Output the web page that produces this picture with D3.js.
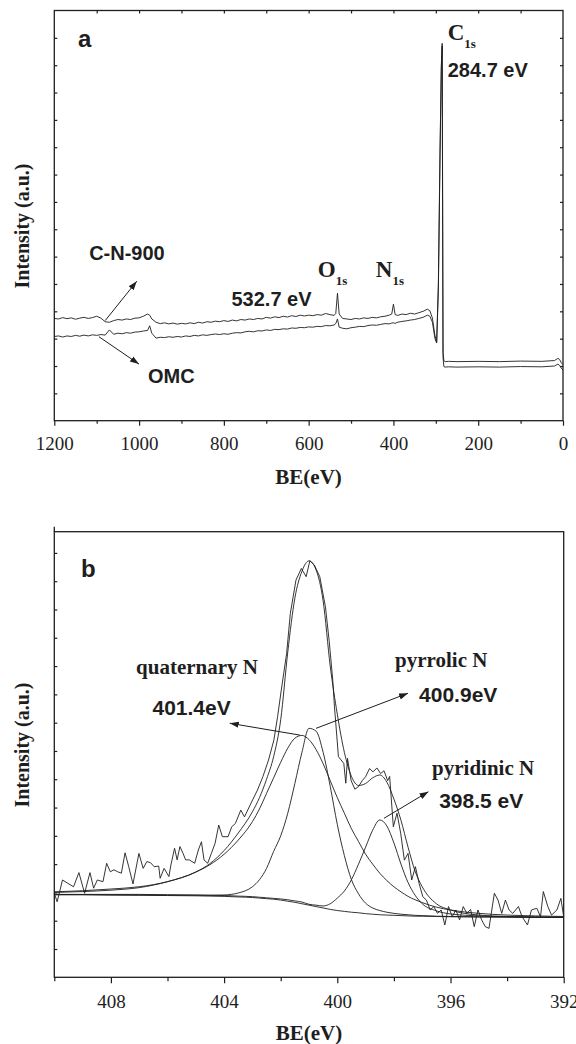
<!DOCTYPE html>
<html>
<head>
<meta charset="utf-8">
<script src="https://cdn.jsdelivr.net/npm/d3@7"></script>
<style>
body { margin: 0; background: #fff; }
</style>
</head>
<body>
<div id="chart"></div>
<script>
// ---------- panel a : XPS survey ----------
const surveyBE = [
  1200, 1190, 1180, 1170, 1160, 1150, 1140, 1130, 1120, 1110,
  1100, 1090, 1080, 1070, 1060, 1050, 1040, 1030, 1020, 1010,
  1000, 990, 980, 975, 970, 960, 950, 940, 930, 920,
  910, 900, 890, 880, 870, 860, 850, 840, 830, 820,
  810, 800, 790, 780, 770, 760, 750, 740, 730, 720,
  710, 700, 690, 680, 670, 660, 650, 640, 630, 620,
  610, 600, 590, 580, 570, 560, 550, 540, 536, 532,
  528, 520, 510, 500, 490, 480, 470, 460, 450, 440,
  430, 420, 410, 404, 400, 396, 390, 380, 370, 360,
  350, 340, 330, 320, 314, 308, 302, 298, 294, 290,
  287, 285, 283, 281, 278, 270, 250, 200, 150, 100,
  50, 20, 12, 8, 4, 0
]
const cn900 = [
  3.74, 3.72, 3.77, 3.73, 3.76, 3.71, 3.75, 3.78, 3.74, 3.77,
  3.82, 3.75, 3.62, 3.6, 3.66, 3.7, 3.68, 3.72, 3.7, 3.75,
  3.76, 3.82, 3.9, 3.86, 3.72, 3.6, 3.55, 3.58, 3.54, 3.57,
  3.53, 3.56, 3.54, 3.58, 3.55, 3.6, 3.57, 3.62, 3.6, 3.64,
  3.62, 3.66, 3.63, 3.68, 3.65, 3.7, 3.68, 3.72, 3.7, 3.74,
  3.72, 3.78, 3.75, 3.8, 3.77, 3.82, 3.79, 3.84, 3.81, 3.86,
  3.83, 3.86, 3.84, 3.88, 3.86, 3.92, 3.88, 3.85, 3.92, 4.66,
  3.9, 3.74, 3.72, 3.7, 3.74, 3.72, 3.76, 3.74, 3.78, 3.76,
  3.8, 3.82, 3.86, 3.9, 4.26, 3.88, 3.85, 3.9, 3.88, 3.93,
  3.9, 3.95, 4.0, 4.08, 4.02, 3.75, 3.1, 2.89, 5.0, 10.0,
  13.0, 13.8, 2.5, 2.2, 2.16, 2.17, 2.16, 2.17, 2.16, 2.18,
  2.17, 2.2, 2.28, 2.24, 2.12, 2.05
]
const omc = [
  3.08, 3.1, 3.06, 3.1, 3.08, 3.12, 3.09, 3.13, 3.1, 3.14,
  3.12, 3.15, 3.13, 3.32, 3.16, 3.2, 3.18, 3.22, 3.2, 3.24,
  3.25, 3.28, 3.3, 3.47, 3.2, 3.02, 3.05, 3.04, 3.07, 3.05,
  3.08, 3.06, 3.1, 3.08, 3.12, 3.1, 3.14, 3.12, 3.15, 3.17,
  3.15, 3.18, 3.16, 3.2, 3.22, 3.21, 3.25, 3.27, 3.25, 3.29,
  3.28, 3.32, 3.3, 3.34, 3.33, 3.36, 3.35, 3.39, 3.38, 3.41,
  3.4, 3.43, 3.42, 3.45, 3.44, 3.48, 3.47, 3.5, 3.55, 3.72,
  3.42, 3.38, 3.36, 3.4, 3.42, 3.45, 3.44, 3.48, 3.5, 3.49,
  3.52, 3.55, 3.54, 3.57, 3.58, 3.56, 3.6, 3.63, 3.65, 3.68,
  3.7, 3.74, 3.78, 3.86, 3.82, 3.6, 3.0, 2.84, 4.8, 9.8,
  12.9, 13.7, 2.3, 1.98, 1.96, 1.97, 1.96, 1.97, 1.96, 1.98,
  1.97, 2.0, 2.07, 2.02, 1.92, 1.85
]
const surveyTicks = [1200, 1000, 800, 600, 400, 200, 0]
const surveyMinor = [1100, 900, 700, 500, 300, 100]

// ---------- panel b : N1s fit ----------
const n1sBE = [
  410, 409, 408, 407, 406, 405, 404.5, 404, 403.5, 403,
  402.75, 402.5, 402.25, 402, 401.75, 401.5, 401.25, 401, 400.75, 400.5,
  400.25, 400, 399.75, 399.5, 399.25, 399, 398.75, 398.5, 398.25, 398,
  397.75, 397.5, 397.25, 397, 396.5, 396, 395, 394, 393, 392
]
const background = [
  2.92, 2.92, 2.91, 2.9, 2.89, 2.88, 2.87, 2.86, 2.84, 2.82,
  2.8, 2.78, 2.76, 2.73, 2.69, 2.65, 2.6, 2.55, 2.5, 2.45,
  2.4, 2.36, 2.33, 2.3, 2.28, 2.25, 2.23, 2.21, 2.2, 2.19,
  2.18, 2.17, 2.16, 2.16, 2.15, 2.14, 2.13, 2.13, 2.12, 2.12
]
const quaternary = [
  3.02, 3.06, 3.12, 3.2, 3.38, 3.72, 3.98, 4.35, 4.85, 5.5,
  5.95, 6.5, 7.05, 7.6, 8.1, 8.45, 8.55, 8.4, 8.05, 7.55,
  6.95, 6.35, 5.8, 5.25, 4.8, 4.35, 4.0, 3.68, 3.42, 3.2,
  3.02, 2.86, 2.74, 2.64, 2.48, 2.38, 2.26, 2.2, 2.17, 2.15
]
const pyrrolic = [
  2.92, 2.92, 2.91, 2.91, 2.9, 2.9, 2.9, 2.91, 2.98, 3.2,
  3.45, 3.85, 4.45, 5.0, 5.8, 6.85, 7.95, 8.8, 8.7, 7.95,
  6.75, 5.4, 4.3, 3.45, 2.95, 2.62, 2.45, 2.36, 2.3, 2.26,
  2.23, 2.21, 2.19, 2.18, 2.16, 2.15, 2.14, 2.13, 2.12, 2.12
]
const pyridinic = [
  2.93, 2.93, 2.93, 2.93, 2.92, 2.91, 2.9, 2.89, 2.87, 2.85,
  2.83, 2.81, 2.79, 2.77, 2.74, 2.7, 2.66, 2.58, 2.55, 2.52,
  2.6, 2.8, 3.05, 3.45, 4.0, 4.6, 5.2, 5.56, 5.35, 4.75,
  4.0, 3.35, 2.9, 2.6, 2.35, 2.24, 2.17, 2.14, 2.13, 2.12
]
const envelope = [
  3.0, 3.03, 3.08, 3.17, 3.38, 3.72, 4.02, 4.48, 5.1, 5.85,
  6.35, 7.0, 7.8, 9.1, 11.5, 13.4, 14.35, 14.72, 14.4, 13.3,
  11.0, 9.3, 7.95, 7.1, 6.78, 6.85, 7.05, 7.15, 6.9, 6.3,
  5.55, 4.6, 3.75, 3.2, 2.6, 2.38, 2.2, 2.15, 2.13, 2.12
]
const rawBE = [
  410.0, 409.9, 409.71, 409.52, 409.32, 409.13, 408.93, 408.74, 408.61, 408.48,
  408.28, 408.15, 408.02, 407.89, 407.76, 407.63, 407.5, 407.37, 407.22, 407.01,
  406.86, 406.73, 406.6, 406.47, 406.31, 406.26, 406.12, 405.95, 405.88, 405.75,
  405.66, 405.56, 405.45, 405.36, 405.23, 405.04, 404.91, 404.8, 404.71, 404.58,
  404.45, 404.32, 404.19, 404.06, 403.86, 403.73, 403.6, 403.41, 403.28, 403.08,
  402.82, 402.63, 402.43, 402.24, 402.11, 401.98, 401.79, 401.66, 401.46, 401.27,
  401.1, 400.97, 400.81, 400.62, 400.42, 400.29, 400.16, 400.1, 399.96, 399.77,
  399.7, 399.64, 399.51, 399.38, 399.25, 399.12, 399.0, 398.86, 398.74, 398.6,
  398.47, 398.35, 398.22, 398.15, 398.02, 397.89, 397.76, 397.63, 397.5, 397.37,
  397.24, 397.11, 396.98, 396.85, 396.72, 396.59, 396.46, 396.33, 396.2, 396.07,
  395.94, 395.81, 395.68, 395.55, 395.42, 395.29, 395.16, 395.03, 394.9, 394.77,
  394.64, 394.45, 394.32, 394.19, 394.06, 393.93, 393.8, 393.6, 393.47, 393.28,
  393.14, 392.95, 392.82, 392.72, 392.56, 392.43, 392.24, 392.1, 392.0
]
const rawI = [
  2.97, 2.67, 3.44, 3.32, 3.2, 3.7, 2.97, 3.7, 3.15, 3.44,
  3.38, 4.03, 3.73, 3.8, 3.73, 3.68, 4.4, 3.91, 3.3, 4.38,
  3.85, 4.09, 4.05, 3.91, 3.93, 3.5, 3.85, 3.56, 3.97, 4.56,
  4.15, 4.62, 4.38, 4.15, 4.15, 4.03, 4.5, 4.79, 4.15, 4.03,
  4.38, 4.73, 5.38, 4.97, 4.97, 5.32, 5.44, 5.91, 5.67, 6.09,
  6.62, 7.09, 7.68, 8.39, 9.21, 10.15, 11.45, 12.86, 14.04, 14.45,
  14.16, 14.72, 14.57, 14.16, 13.1, 11.92, 10.5, 9.56, 7.8, 7.56,
  6.86, 7.74, 6.95, 6.65, 6.74, 6.95, 7.09, 7.38, 7.26, 7.4,
  7.2, 7.3, 6.95, 7.1, 5.32, 5.8, 5.09, 4.14, 4.38, 3.44,
  3.91, 3.32, 2.85, 2.73, 2.38, 2.5, 2.26, 2.38, 1.85, 2.5,
  2.14, 2.38, 2.03, 2.5, 2.26, 2.4, 1.79, 2.38, 2.03, 1.79,
  1.73, 2.97, 2.73, 2.26, 2.73, 2.38, 2.26, 2.5, 2.14, 1.85,
  2.38, 2.44, 2.14, 3.03, 2.5, 2.2, 2.38, 2.79, 2.14
]
const n1sTicks = [408, 404, 400, 396, 392]
const n1sMinor = [410, 406, 402, 398, 394]

const ink = "#1e1e1e"
const serif = "'Liberation Serif', 'Times New Roman', serif"
const sans = "'Liberation Sans', Arial, sans-serif"

const svg = d3.select("#chart").append("svg")
  .attr("width", 576)
  .attr("height", 1044)

svg.append("defs").append("marker")
  .attr("id", "head")
  .attr("viewBox", "0 0 10 10")
  .attr("refX", 10).attr("refY", 5)
  .attr("markerUnits", "userSpaceOnUse")
  .attr("markerWidth", 9).attr("markerHeight", 9)
  .attr("orient", "auto")
  .append("path")
  .attr("d", "M0,1.5L10,5L0,8.5Z")
  .attr("fill", ink)

var xa = d3.scaleLinear().domain([1200, 0]).range([54.3, 563])
var ya = d3.scaleLinear().domain([0, 15]).range([420.7, 10.5])
var xb = d3.scaleLinear().domain([410, 392]).range([54.3, 563.7])
var yb = d3.scaleLinear().domain([0, 15.75]).range([977.3, 531.7])

function tickAxis(axis, transform, labels){
  const g = svg.append("g").attr("transform", transform).call(axis)
  g.select(".domain").remove()
  g.selectAll("line").attr("stroke", ink).attr("stroke-width", 1.2)
  if(labels){
    g.selectAll("text")
      .attr("font-family", serif)
      .attr("font-size", 19)
      .attr("fill", ink)
  } else {
    g.selectAll("text").remove()
  }
  return g
}

function frame(x, y){
  svg.append("rect")
    .attr("x", x.range()[0])
    .attr("y", y.range()[1])
    .attr("width", x.range()[1] - x.range()[0])
    .attr("height", y.range()[0] - y.range()[1])
    .attr("fill", "none")
    .attr("stroke", ink)
    .attr("stroke-width", 1.3)
}

function label(x, y, str, font, size, anchor){
  return svg.append("text")
    .attr("x", x).attr("y", y)
    .attr("font-family", font)
    .attr("font-weight", "bold")
    .attr("font-size", size)
    .attr("fill", ink)
    .attr("text-anchor", anchor || "start")
    .text(str)
}

function subLabel(x, y, main, sub){
  const t = svg.append("text")
    .attr("x", x).attr("y", y)
    .attr("font-family", serif)
    .attr("font-weight", "bold")
    .attr("fill", ink)
  t.append("tspan").attr("font-size", 23).text(main)
  t.append("tspan").attr("font-size", 13).attr("dy", 8).text(sub)
}

function arrow(x1, y1, x2, y2){
  svg.append("line")
    .attr("x1", x1).attr("y1", y1)
    .attr("x2", x2).attr("y2", y2)
    .attr("stroke", ink)
    .attr("stroke-width", 1)
    .attr("marker-end", "url(#head)")
}

// ---------- panel a ----------
tickAxis(d3.axisBottom(xa).tickValues(surveyTicks).tickSize(5).tickPadding(11).tickFormat(d3.format("d")),
  "translate(0," + ya(0) + ")", true)
tickAxis(d3.axisBottom(xa).tickValues(surveyMinor).tickSize(3), "translate(0," + ya(0) + ")", false)
tickAxis(d3.axisBottom(xa).tickValues(surveyMinor.concat([1000, 800, 600, 400, 200])).tickSize(3),
  "translate(0," + ya(15) + ")", false)
tickAxis(d3.axisRight(ya).tickValues(d3.range(1, 15)).tickSize(3), "translate(" + xa(1200) + ",0)", false)
tickAxis(d3.axisLeft(ya).tickValues(d3.range(1, 15)).tickSize(3), "translate(" + xa(0) + ",0)", false)
frame(xa, ya)

var lineA = d3.line().x(function(d){ return xa(d[0]) }).y(function(d){ return ya(d[1]) })

svg.append("path")
  .datum(d3.zip(surveyBE, omc))
  .attr("d", lineA)
  .attr("fill", "none")
  .attr("stroke", ink)
  .attr("stroke-width", 0.9)

svg.append("path")
  .datum(d3.zip(surveyBE, cn900))
  .attr("d", lineA)
  .attr("fill", "none")
  .attr("stroke", ink)
  .attr("stroke-width", 0.9)

label(xa(1144), ya(13.65), "a", sans, 24)
subLabel(xa(271.9), ya(13.92), "C", "1s")
label(xa(271.9), ya(12.58), "284.7 eV", sans, 20)
subLabel(xa(578.4), ya(5.27), "O", "1s")
subLabel(xa(441.6), ya(5.27), "N", "1s")
label(xa(782), ya(4.19), "532.7 eV", sans, 20)
label(xa(1117.8), ya(5.89), "C-N-900", sans, 20)
label(xa(979), ya(1.38), "OMC", sans, 20)
arrow(xa(1080), ya(3.66), xa(1005.5), ya(5.1))
arrow(xa(1094.6), ya(3.07), xa(1000.3), ya(2.07))

svg.append("text")
  .attr("transform", "translate(28.5,226)rotate(-90)")
  .attr("text-anchor", "middle")
  .attr("font-family", serif).attr("font-weight", "bold").attr("font-size", 20)
  .attr("fill", ink)
  .text("Intensity (a.u.)")
label(308.6, 484, "BE(eV)", serif, 21, "middle")

// ---------- panel b ----------
tickAxis(d3.axisBottom(xb).tickValues(n1sTicks).tickSize(6).tickPadding(11).tickFormat(d3.format("d")),
  "translate(0," + yb(0) + ")", true)
tickAxis(d3.axisBottom(xb).tickValues(n1sMinor).tickSize(4), "translate(0," + yb(0) + ")", false)
tickAxis(d3.axisRight(yb).tickValues(d3.range(1, 16)).tickSize(3), "translate(" + xb(410) + ",0)", false)
frame(xb, yb)
svg.append("line")
  .attr("x1", xb(410)).attr("x2", xb(410))
  .attr("y1", yb(15.75) - 5).attr("y2", yb(15.75))
  .attr("stroke", ink).attr("stroke-width", 1.3)

var smooth = d3.line().curve(d3.curveMonotoneX)
  .x(function(d){ return xb(d[0]) }).y(function(d){ return yb(d[1]) })
var jagged = d3.line()
  .x(function(d){ return xb(d[0]) }).y(function(d){ return yb(d[1]) })

const fits = [background, quaternary, pyrrolic, pyridinic, envelope]
svg.append("g")
  .selectAll("path")
  .data(fits)
  .enter()
  .append("path")
  .attr("d", function(d){ return smooth(d3.zip(n1sBE, d)) })
  .attr("fill", "none")
  .attr("stroke", ink)
  .attr("stroke-width", 0.9)

svg.append("path")
  .datum(d3.zip(rawBE, rawI))
  .attr("d", jagged)
  .attr("fill", "none")
  .attr("stroke", ink)
  .attr("stroke-width", 0.9)

label(xb(409.06), yb(14.14), "b", sans, 24)
label(xb(407.11), yb(10.72), "quaternary N", serif, 21)
label(xb(406.53), yb(9.27), "401.4eV", sans, 21)
label(xb(397.96), yb(10.96), "pyrrolic N", serif, 21)
label(xb(397.11), yb(9.73), "400.9eV", sans, 21)
label(xb(396.65), yb(7.15), "pyridinic N", serif, 21)
label(xb(396.4), yb(5.98), "398.5 eV", sans, 21)
arrow(xb(401.32), yb(8.56), xb(403.8), yb(8.98))
arrow(xb(400.75), yb(8.8), xb(397.5), yb(10.04))
arrow(xb(398.35), yb(5.62), xb(396.78), yb(6.56))

svg.append("text")
  .attr("transform", "translate(28.5,745)rotate(-90)")
  .attr("text-anchor", "middle")
  .attr("font-family", serif).attr("font-weight", "bold").attr("font-size", 20)
  .attr("fill", ink)
  .text("Intensity (a.u.)")
label(309, 1040, "BE(eV)", serif, 21, "middle")
</script>
</body>
</html>
